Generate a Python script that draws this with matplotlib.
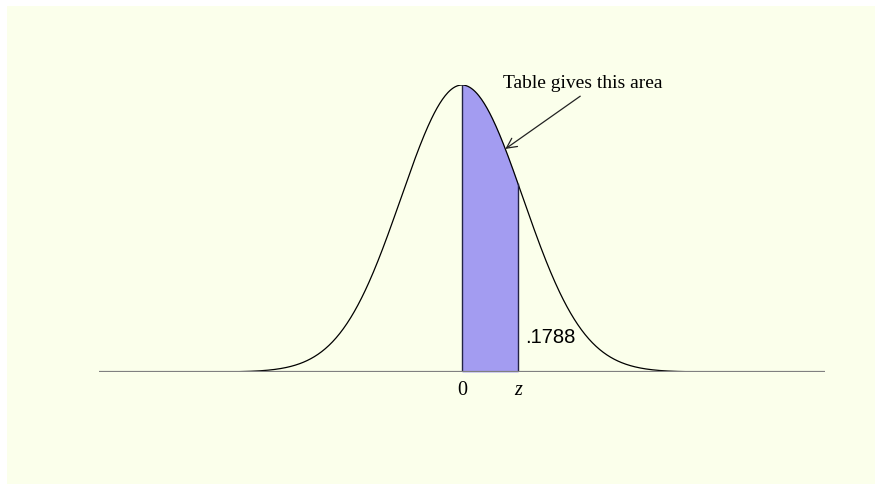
import matplotlib.pyplot as plt
import numpy as np
from matplotlib.patches import Rectangle

# standard normal, shaded between 0 and z; the label gives the upper tail beyond z
z_value = 0.92
tail_area = 0.1788
x_limits = [-5.95, 5.95]
tick_positions = [0.0, z_value]
tick_labels = ["0", "z"]
area_note = "Table gives this area"

def normal_pdf(x):
    return np.exp(-x ** 2 / 2) / np.sqrt(2 * np.pi)

fig = plt.figure(figsize=(8.75, 4.85), dpi=100)
fig.patch.set_facecolor("white")
fig.patches.append(Rectangle((7 / 875, 0), 1, 1 - 7 / 485, transform=fig.transFigure,
                             facecolor="#FBFFEB", edgecolor="none", zorder=-10))

# axes placed so baseline sits at y=373 px and peak at y=86 px
ax = fig.add_axes([99 / 875, (485 - 373) / 485, (825 - 99) / 875, (373 - 86) / 485])
ax.set_zorder(5)
ax.set_facecolor("none")
ax.axis("off")

peak = normal_pdf(0)
xs = np.linspace(x_limits[0], x_limits[1], 800)
ax.plot(xs, normal_pdf(xs), color="black", lw=0.9, zorder=3)

xf = np.linspace(0, z_value, 200)
ax.fill_between(xf, 0, normal_pdf(xf), color="#A39CF1", lw=0, zorder=2)
ax.plot([0, 0], [0, peak], color="#222244", lw=1.0, zorder=3)
ax.plot([z_value, z_value], [0, normal_pdf(z_value)], color="#222244", lw=1.0, zorder=3)

ax.plot(x_limits, [0, 0], color="#808080", lw=1.6, zorder=4, solid_capstyle="butt")
ax.set_xlim(x_limits)
ax.set_ylim(0, peak)

for pos, lab in zip(tick_positions, tick_labels):
    ax.text(pos, -peak * 0.06, lab, ha="center", va="center", fontsize=14.5,
            family="Liberation Serif", style="italic" if lab == "z" else "normal",
            clip_on=False)

ax.text(z_value + 0.12, peak * 0.125, ".%s" % f"{tail_area:.4f}"[2:], ha="left", va="center",
        fontsize=14.5, family="Liberation Sans")

ax.annotate(area_note, xy=(0.71, normal_pdf(0.71)), xytext=(1.98, peak * 0.993),
            ha="center", va="baseline", fontsize=14, family="Liberation Serif",
            annotation_clip=False,
            arrowprops=dict(arrowstyle="->", color="#222222", lw=0.9,
                            shrinkA=3, shrinkB=0, mutation_scale=18,
                            relpos=(0.53, 0.0)))

fig.savefig("out.png", dpi=100, facecolor=fig.get_facecolor())
